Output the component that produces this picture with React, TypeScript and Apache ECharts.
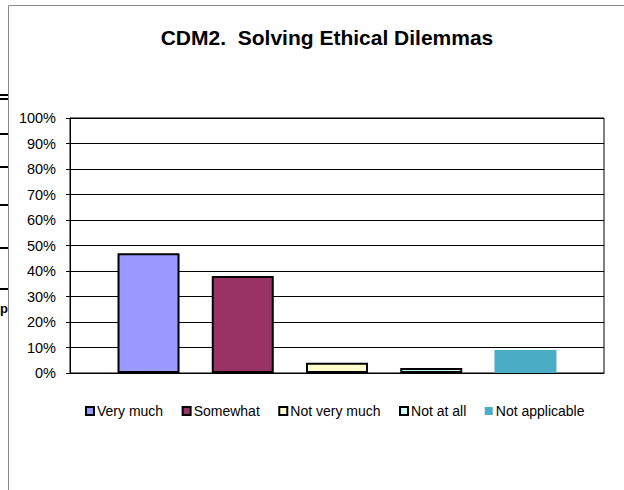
import React, { useEffect, useRef } from "react";
import * as echarts from "echarts";

const title = "CDM2.  Solving Ethical Dilemmas";
const categories = ["CDM2"];
const seriesNames = ["Very much", "Somewhat", "Not very much", "Not at all", "Not applicable"];
const seriesValues = [0.47, 0.38, 0.04, 0.02, 0.09];
const seriesColors = ["#9999FF", "#993366", "#FFFFCC", "#CCFFFF", "#4BACC6"];
const seriesBorders = [true, true, true, true, false];
const artifactLineYs = [95, 99, 134, 167, 205, 248, 289];

export default function App() {
  const ref = useRef<HTMLDivElement>(null);
  useEffect(() => {
    if (!ref.current) return;
    const chart = echarts.init(ref.current, null, { renderer: "svg" });
    const font = "'Liberation Sans', Arial, sans-serif";
    const graphics: any[] = [
      {
        type: "polyline",
        shape: { points: [[8.5, 490], [8.5, 5.5], [624, 5.5]] },
        style: { stroke: "#8a8a8a", fill: null, lineWidth: 1 },
        silent: true,
      },
      ...artifactLineYs.map((y) => ({
        type: "line",
        shape: { x1: 0, y1: y, x2: 8, y2: y },
        style: { stroke: "#000", lineWidth: 2 },
        silent: true,
      })),
      {
        type: "text",
        x: 0,
        y: 315,
        style: {
          text: "p",
          font: `bold 13px ${font}`,
          fill: "#000",
          align: "left",
          verticalAlign: "bottom",
        },
        silent: true,
      },
    ];
    chart.setOption({
      animation: false,
      backgroundColor: "#fff",
      textStyle: { fontFamily: font },
      title: {
        text: title,
        left: 322,
        textAlign: "center",
        top: 22,
        textStyle: { fontSize: 21, fontWeight: "bold", color: "#000", fontFamily: font },
      },
      legend: {
        data: seriesNames,
        left: 80,
        top: 399,
        itemWidth: 8,
        itemHeight: 8,
        itemGap: 18.5,
        icon: "rect",
        textStyle: { fontSize: 14, color: "#000", fontFamily: font, padding: [0, 0, 0, -2] },
      },
      grid: {
        left: 70,
        top: 118,
        right: 20,
        bottom: 117,
        show: true,
        borderColor: "#000",
        borderWidth: 1,
        containLabel: false,
      },
      xAxis: {
        type: "category",
        data: categories,
        axisLabel: { show: false },
        axisTick: { show: false },
        axisLine: { lineStyle: { color: "#000", width: 1 } },
      },
      yAxis: {
        type: "value",
        min: 0,
        max: 1,
        interval: 0.1,
        axisLabel: {
          formatter: (v: number) => `${Math.round(v * 100)}%`,
          fontSize: 14.5,
          color: "#000",
          margin: 14,
          fontFamily: font,
        },
        axisTick: { show: true, inside: false, length: 4, lineStyle: { color: "#000" } },
        axisLine: { show: true, lineStyle: { color: "#000", width: 1 } },
        splitLine: { show: true, lineStyle: { color: "#000", width: 1 } },
      },
      series: seriesNames.map((name, i) => ({
        name,
        type: "bar",
        data: [seriesValues[i]],
        barWidth: 62,
        barGap: "52%",
        itemStyle: {
          color: seriesColors[i],
          borderColor: seriesBorders[i] ? "#000" : seriesColors[i],
          borderWidth: seriesBorders[i] ? 2 : 0,
        },
      })),
      graphic: graphics,
    });
    return () => chart.dispose();
  }, []);
  return (
    <div
      ref={ref}
      style={{ position: "fixed", left: 0, top: 0, width: 624, height: 490 }}
    />
  );
}
